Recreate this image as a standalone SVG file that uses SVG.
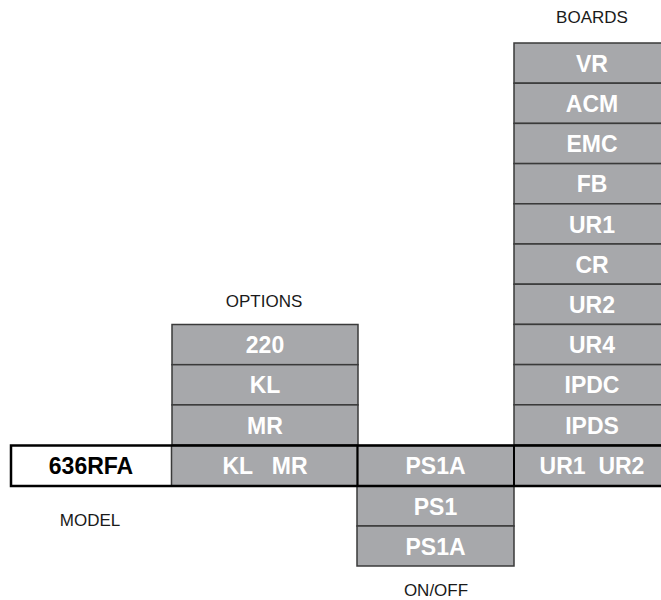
<svg xmlns="http://www.w3.org/2000/svg" width="661" height="600" viewBox="0 0 661 600">
<style>
.c{fill:#a7a8ab;stroke:#3a3a3a;stroke-width:1.5}
.t{font-family:"Liberation Sans",Arial,sans-serif;font-weight:bold;font-size:23px;fill:#ffffff;text-anchor:middle;white-space:pre}
.m{fill:#000000}
.l{font-family:"Liberation Sans",Arial,sans-serif;font-size:17px;fill:#1a1a1a;text-anchor:middle}
</style>
<rect width="661" height="600" fill="#ffffff"/>
<g id="boards">
<text class="l" x="592" y="23">BOARDS</text>
<g id="b-VR"><rect class="c" x="514" y="43" width="157" height="40.2"/><text class="t" x="592" y="71.5">VR</text></g>
<g id="b-ACM"><rect class="c" x="514" y="83.2" width="157" height="40.2"/><text class="t" x="592" y="111.5">ACM</text></g>
<g id="b-EMC"><rect class="c" x="514" y="123.4" width="157" height="40.2"/><text class="t" x="592" y="152">EMC</text></g>
<g id="b-FB"><rect class="c" x="514" y="163.6" width="157" height="40.2"/><text class="t" x="592" y="192">FB</text></g>
<g id="b-UR1"><rect class="c" x="514" y="203.8" width="157" height="40.2"/><text class="t" x="592" y="232.5">UR1</text></g>
<g id="b-CR"><rect class="c" x="514" y="244" width="157" height="40.2"/><text class="t" x="592" y="272.5">CR</text></g>
<g id="b-UR2"><rect class="c" x="514" y="284.2" width="157" height="40.2"/><text class="t" x="592" y="312.5">UR2</text></g>
<g id="b-UR4"><rect class="c" x="514" y="324.4" width="157" height="40.2"/><text class="t" x="592" y="353">UR4</text></g>
<g id="b-IPDC"><rect class="c" x="514" y="364.6" width="157" height="40.2"/><text class="t" x="592" y="393">IPDC</text></g>
<g id="b-IPDS"><rect class="c" x="514" y="404.8" width="157" height="40.2"/><text class="t" x="592" y="433.5">IPDS</text></g>
</g>
<g id="options">
<text class="l" x="264" y="307">OPTIONS</text>
<g id="o-220"><rect class="c" x="172" y="324.5" width="186" height="40.2"/><text class="t" x="265" y="353">220</text></g>
<g id="o-KL"><rect class="c" x="172" y="364.7" width="186" height="40.2"/><text class="t" x="265" y="393">KL</text></g>
<g id="o-MR"><rect class="c" x="172" y="404.9" width="186" height="40.2"/><text class="t" x="265" y="433.5">MR</text></g>
</g>
<g id="onoff">
<g id="p-PS1"><rect class="c" x="357" y="486" width="157" height="40"/><text class="t" x="435.5" y="514.5">PS1</text></g>
<g id="p-PS1A"><rect class="c" x="357" y="526" width="157" height="40"/><text class="t" x="435.5" y="554.5">PS1A</text></g>
<text class="l" x="436" y="596">ON/OFF</text>
</g>
<g id="row">
<g id="model"><rect x="11" y="445.5" width="160.5" height="40.5" fill="#ffffff"/><text class="t m" x="91" y="474">636RFA</text></g>
<g id="r-KLMR"><rect class="c" x="171.5" y="445.5" width="186" height="40.5"/><text class="t" x="265" y="474">KL   MR</text></g>
<g id="r-PS1A"><rect class="c" x="357.5" y="445.5" width="156.5" height="40.5"/><text class="t" x="435.5" y="474">PS1A</text></g>
<g id="r-UR"><rect class="c" x="514" y="445.5" width="157" height="40.5"/><text class="t" x="592" y="474">UR1  UR2</text></g>
<rect x="11" y="445.5" width="660" height="40.5" fill="none" stroke="#000" stroke-width="2.5"/>
<line x1="357.5" y1="445.5" x2="357.5" y2="486" stroke="#000" stroke-width="2"/>
<line x1="514" y1="445.5" x2="514" y2="486" stroke="#000" stroke-width="2"/>
<text class="l" x="90" y="526">MODEL</text>
</g>
</svg>
